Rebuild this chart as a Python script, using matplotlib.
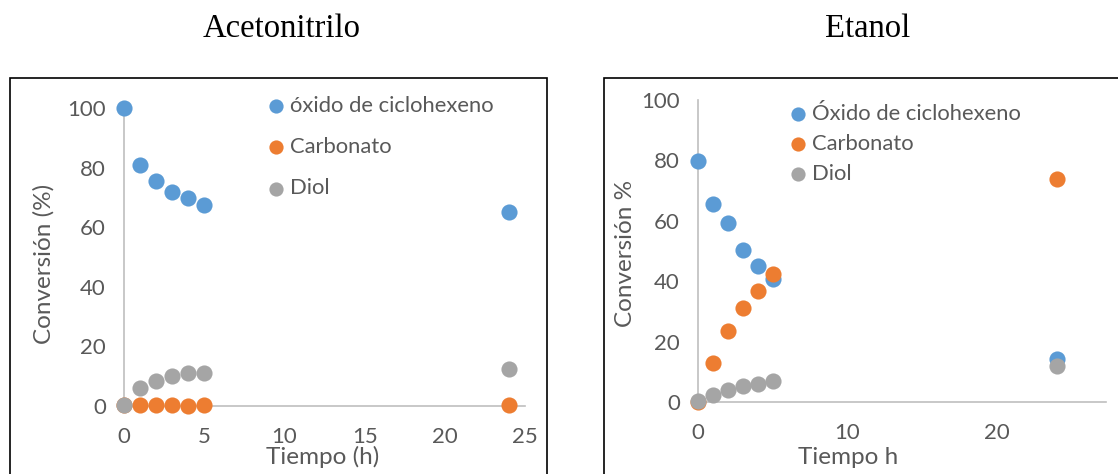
import matplotlib
matplotlib.use("Agg")
import matplotlib.pyplot as plt
from matplotlib.patches import Rectangle

# Tiempo (h)
tiempo = [0, 1, 2, 3, 4, 5, 24]

# Acetonitrilo
acn_oxido = [100, 81.0, 75.6, 71.7, 69.8, 67.5, 65.1]
acn_carbonato = [0.3, 0.5, 0.5, 0.4, 0.0, 0.5, 0.5]
acn_diol = [0.3, 6.1, 8.4, 10.1, 11.1, 11.1, 12.3]

# Etanol
eto_oxido = [79.9, 65.5, 59.4, 50.2, 45.1, 40.8, 14.2]
eto_carbonato = [0.0, 12.8, 23.4, 31.1, 36.9, 42.3, 74.0]
eto_diol = [0.3, 2.4, 3.9, 5.2, 6.1, 6.9, 11.9]

W, H = 1118, 474
BLUE, ORANGE, GRAY = "#5B9BD5", "#ED7D31", "#A5A5A5"
TXT = "#595959"
FONT = "Lato"

fig = plt.figure(figsize=(W / 100, H / 100), dpi=100)

def px_axes(x0, y0, x1, y1):
    # x0,y0 = data origin pixel; x1,y1 = far corner pixel
    return fig.add_axes([x0 / W, 1 - y0 / H, (x1 - x0) / W, (y0 - y1) / H])

def style(ax, xmax, xticks):
    ax.set_xlim(0, xmax)
    ax.set_ylim(0, 100)
    ax.set_xticks(xticks)
    ax.set_yticks([0, 20, 40, 60, 80, 100])
    for s in ["top", "right"]:
        ax.spines[s].set_visible(False)
    for s in ["left", "bottom"]:
        ax.spines[s].set_color("#BFBFBF")
        ax.spines[s].set_linewidth(1.2)
    ax.tick_params(length=0, labelsize=16, labelcolor=TXT)
    ax.tick_params(axis="y", pad=13)
    ax.tick_params(axis="x", pad=15)
    for lab in ax.get_xticklabels() + ax.get_yticklabels():
        lab.set_fontfamily(FONT)
    ax.patch.set_alpha(0)

def series(ax, ys, labels):
    for y, c, lab in zip(ys, [BLUE, ORANGE, GRAY], labels):
        ax.scatter(tiempo, y, s=135, color=c, label=lab, clip_on=False, zorder=3, linewidths=0)

def legend(ax, x, y, spacing):
    ax.legend(loc="upper left", bbox_to_anchor=(x / W, 1 - y / H), bbox_transform=fig.transFigure,
              frameon=False, handlelength=0.7, handletextpad=0.25, labelspacing=spacing,
              borderaxespad=0, prop={"family": FONT, "size": 15.8}, labelcolor=TXT,
              markerscale=0.88)

# left panel
ax1 = px_axes(124, 406, 525, 108)
style(ax1, 25, [0, 5, 10, 15, 20, 25])
series(ax1, [acn_oxido, acn_carbonato, acn_diol], ["óxido de ciclohexeno", "Carbonato", "Diol"])
legend(ax1, 260, 87, 0.97)

# right panel
ax2 = px_axes(698, 402, 1106, 100)
style(ax2, 27.3, [0, 10, 20])
series(ax2, [eto_oxido, eto_carbonato, eto_diol], ["Óxido de ciclohexeno", "Carbonato", "Diol"])
legend(ax2, 782, 95, 0.45)

# axis labels
lab_kw = dict(ha="center", va="center", fontsize=17.5, color=TXT, family=FONT)
fig.text(44 / W, 1 - 264 / H, "Conversión (%)", rotation=90, **lab_kw)
fig.text(323 / W, 1 - 457 / H, "Tiempo (h)", **lab_kw)
fig.text(625 / W, 1 - 253 / H, "Conversión %", rotation=90, **lab_kw)
fig.text(848 / W, 1 - 457 / H, "Tiempo h", **lab_kw)

# titles
fig.text(282 / W, 1 - 29 / H, "Acetonitrilo", ha="center", va="center", fontsize=23.5,
         family="Liberation Serif", color="black")
fig.text(868 / W, 1 - 29 / H, "Etanol", ha="center", va="center", fontsize=23.5,
         family="Liberation Serif", color="black")

# chart frames
fig.patches.append(Rectangle((10 / W, -0.05), 537 / W, 1 - 78 / H + 0.05, transform=fig.transFigure,
                             fill=False, edgecolor="black", linewidth=1.2))
fig.patches.append(Rectangle((604 / W, -0.05), 0.6, 1 - 78 / H + 0.05, transform=fig.transFigure,
                             fill=False, edgecolor="black", linewidth=1.2))

fig.savefig("out.png", dpi=100)
